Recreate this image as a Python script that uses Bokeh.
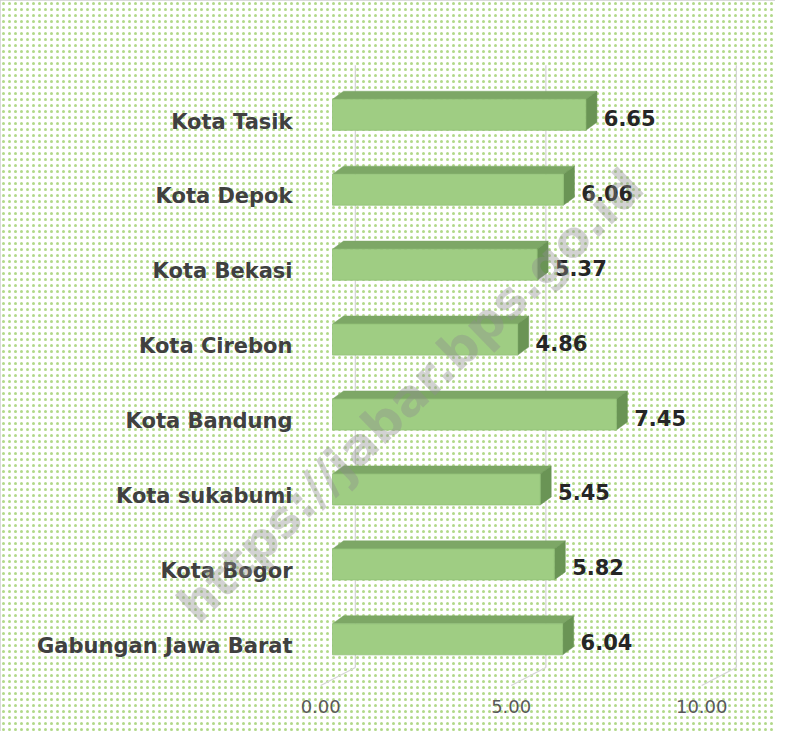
from bokeh.plotting import figure
from bokeh.models import BoxAnnotation, Range1d
from bokeh.embed import file_html
from bokeh.resources import INLINE
from bokeh.core.properties import value

# ---- data ----
categories = ["Gabungan Jawa Barat", "Kota Bogor", "Kota sukabumi", "Kota Bandung",
              "Kota Cirebon", "Kota Bekasi", "Kota Depok", "Kota Tasik"]
values = [6.04, 5.82, 5.45, 7.45, 4.86, 5.37, 6.06, 6.65]
ticks = [0, 5, 10]
tick_labels = ["0.00", "5.00", "10.00"]
watermark = "https://jabar.bps.go.id"

# ---- styling / 3D geometry (data units) ----
bar_h = 0.414
depth_dx = 0.29
depth_dy = 0.107
back_dx = 0.6
front_dx = -0.31
grid_top = 7.66
floor_back = -0.376
floor_front = -0.616

ypos = list(range(len(categories)))

p = figure(width=775, height=731, output_backend="svg", toolbar_location=None,
           x_range=Range1d(-8.714, 11.627), y_range=Range1d(-1.230, 8.525),
           x_axis_location=None, y_axis_location=None, min_border=0,
           outline_line_color="#cfcfcf", outline_line_width=1.5,
           background_fill_color="white", border_fill_color="white")
p.grid.visible = False

bg = BoxAnnotation(fill_color="white", fill_alpha=1.0, line_color=None,
                   hatch_pattern="dot", hatch_color="#a9d47c", hatch_scale=6,
                   hatch_weight=1.0, hatch_alpha=0.9, level="underlay")
p.add_layout(bg)

# gridlines (back wall + floor)
p.segment(x0=[t + back_dx for t in ticks], y0=[floor_back] * len(ticks),
          x1=[t + back_dx for t in ticks], y1=[grid_top] * len(ticks),
          line_color="#d6d6d6", line_width=1.3)
p.segment(x0=[t + back_dx for t in ticks], y0=[floor_back] * len(ticks),
          x1=[t + front_dx for t in ticks], y1=[floor_front] * len(ticks),
          line_color="#d6d6d6", line_width=1.3)

# 3D bars
top_xs, top_ys, side_xs, side_ys = [], [], [], []
for v, y in zip(values, ypos):
    t = y + bar_h / 2
    b = y - bar_h / 2
    top_xs.append([0, v, v + depth_dx, depth_dx])
    top_ys.append([t, t, t + depth_dy, t + depth_dy])
    side_xs.append([v, v + depth_dx, v + depth_dx, v])
    side_ys.append([b, b + depth_dy, t + depth_dy, t])

p.patches(top_xs, top_ys, fill_color="#7da766", line_color="#7da766", line_width=0.5)
p.patches(side_xs, side_ys, fill_color="#6a9455", line_color="#6a9455", line_width=0.5)
p.hbar(y=ypos, left=0, right=values, height=bar_h, fill_color="#9fcd83",
       line_color="#92c277", line_width=0.8)

# category labels
p.text(x=[-1.05] * len(categories), y=[y - 0.09 for y in ypos], text=categories,
       text_font=value("DejaVu Sans"), text_font_style="bold", text_font_size="21px",
       text_color="#404040", text_align="right", text_baseline="middle")

# value labels
p.text(x=[v + 0.47 for v in values], y=[y - 0.04 for y in ypos],
       text=[f"{v:.2f}" for v in values],
       text_font=value("DejaVu Sans"), text_font_style="bold", text_font_size="21px",
       text_color="#262626", text_align="left", text_baseline="middle")

# tick labels
p.text(x=[t + front_dx for t in ticks], y=[-0.897] * len(ticks), text=tick_labels,
       text_font=value("DejaVu Sans"), text_font_size="18px",
       text_color="#595959", text_align="center", text_baseline="middle")

# watermark
p.text(x=[2.05], y=[3.25], text=[watermark], angle=0.77,
       text_font=value("DejaVu Sans"), text_font_style="bold", text_font_size="50px",
       text_color="#8f8f8f", text_alpha=0.4, text_align="center", text_baseline="middle")

open("out.html", "w").write(file_html(p, INLINE))
